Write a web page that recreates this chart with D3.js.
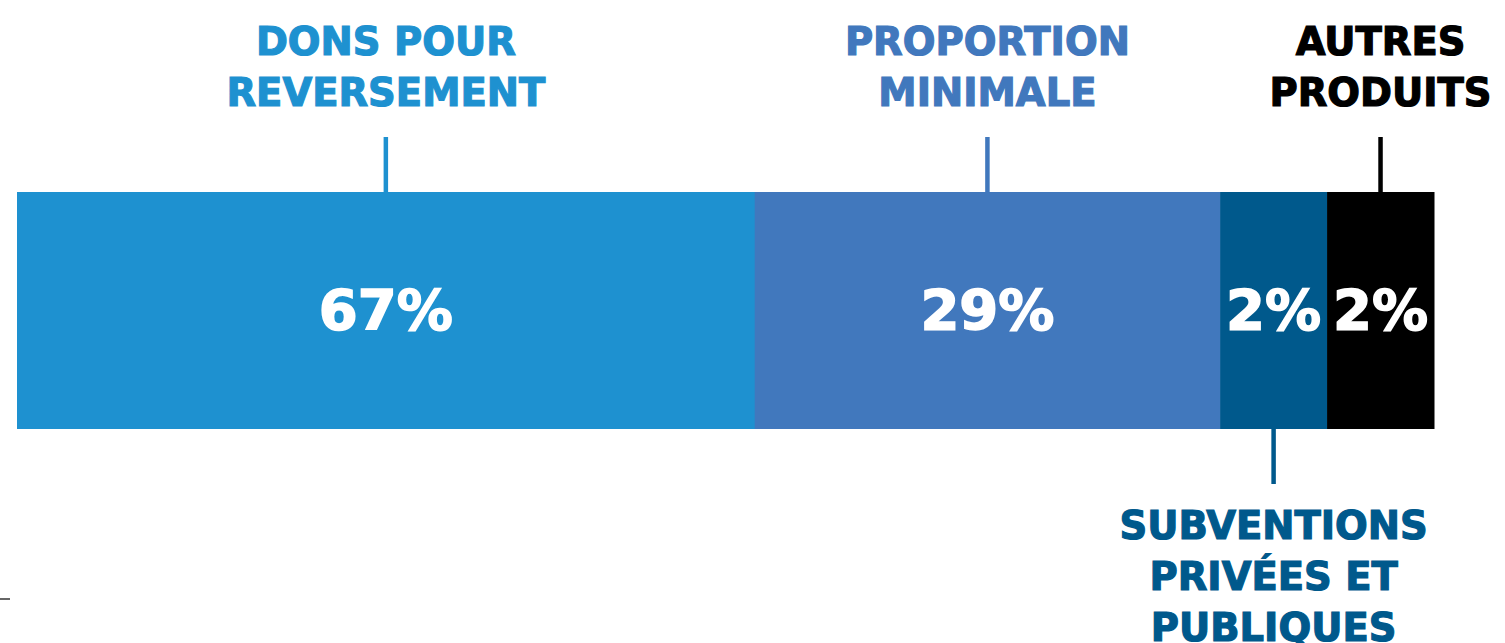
<!DOCTYPE html>
<html lang="fr">
<head>
<meta charset="utf-8">
<script src="https://cdn.jsdelivr.net/npm/d3@7"></script>
<style>
  html, body { margin: 0; padding: 0; background: #fff; }
  svg { display: block; }
  text { font-family: "DejaVu Sans", sans-serif; font-weight: bold; }
</style>
</head>
<body>
<svg id="chart" width="1505" height="643"></svg>
<script>
// Data
const categories = [
  ["DONS POUR", "REVERSEMENT"],
  ["PROPORTION", "MINIMALE"],
  ["SUBVENTIONS", "PRIVÉES ET", "PUBLIQUES"],
  ["AUTRES", "PRODUITS"]
];
const shares = [67, 29, 2, 2];
const colors = ["#1e91d0", "#4178bd", "#00598c", "#000000"];

// which labels hang under the bar
const labelBelow = [false, false, true, false];

const svg = d3.select("#chart");

const bar = { left: 17, right: 1434, top: 192, bottom: 429 };
const lineHeight = 51;

// the source widens small parts: widths follow share^0.55
const weights = shares.map(d => Math.pow(d, 0.55));
const starts = d3.cumsum([0, ...weights]);

const x = d3.scaleLinear()
    .domain([0, d3.sum(weights)])
    .range([bar.left, bar.right]);

const parts = shares.map((d, i) => ({
  value: d,
  lines: categories[i],
  color: colors[i],
  below: labelBelow[i],
  x0: x(starts[i]),
  x1: x(starts[i + 1])
}));

const g = svg.append("g");

// Segments
g.selectAll(".seg")
  .data(parts)
  .enter()
  .append("rect")
  .attr("class", "seg")
  .attr("x", d => d.x0)
  .attr("y", bar.top)
  .attr("width", d => d.x1 - d.x0 + 0.5)
  .attr("height", bar.bottom - bar.top)
  .attr("fill", d => d.color);

// Percent labels
g.selectAll(".pct")
  .data(parts)
  .enter()
  .append("text")
  .attr("class", "pct")
  .attr("x", d => (d.x0 + d.x1) / 2)
  .attr("y", (bar.top + bar.bottom) / 2 + 18)
  .attr("text-anchor", "middle")
  .style("font-size", "56px")
  .style("fill", "#fff")
  .style("stroke", "#fff")
  .style("stroke-width", 1.6)
  .text(d => `${d.value}%`);

// Leader ticks
g.selectAll(".tick")
  .data(parts)
  .enter()
  .append("line")
  .attr("class", "tick")
  .attr("x1", d => (d.x0 + d.x1) / 2)
  .attr("x2", d => (d.x0 + d.x1) / 2)
  .attr("y1", d => d.below ? bar.bottom : bar.top)
  .attr("y2", d => d.below ? bar.bottom + 55 : bar.top - 55)
  .attr("stroke", d => d.color)
  .attr("stroke-width", 4.5);

// Category labels
const labels = g.selectAll(".label")
  .data(parts)
  .enter()
  .append("text")
  .attr("class", "label")
  .attr("text-anchor", "middle")
  .style("font-size", "38.5px")
  .style("fill", d => d.color)
  .style("stroke", d => d.color)
  .style("stroke-width", 1.2);

labels.selectAll("tspan")
  .data(d => d.lines.map((t, j) => {
    const cx = (d.x0 + d.x1) / 2;
    const y = d.below
      ? bar.bottom + 110 + j * lineHeight
      : bar.top - 86 - (d.lines.length - 1 - j) * lineHeight;
    return { t, cx, y };
  }))
  .enter()
  .append("tspan")
  .attr("x", d => d.cx)
  .attr("y", d => d.y)
  .text(d => d.t);

// small stray rule at the lower left edge
svg.append("line")
  .attr("x1", 0)
  .attr("x2", 10)
  .attr("y1", 599)
  .attr("y2", 599)
  .attr("stroke", "#333")
  .attr("stroke-width", 1.5);
</script>
</body>
</html>
